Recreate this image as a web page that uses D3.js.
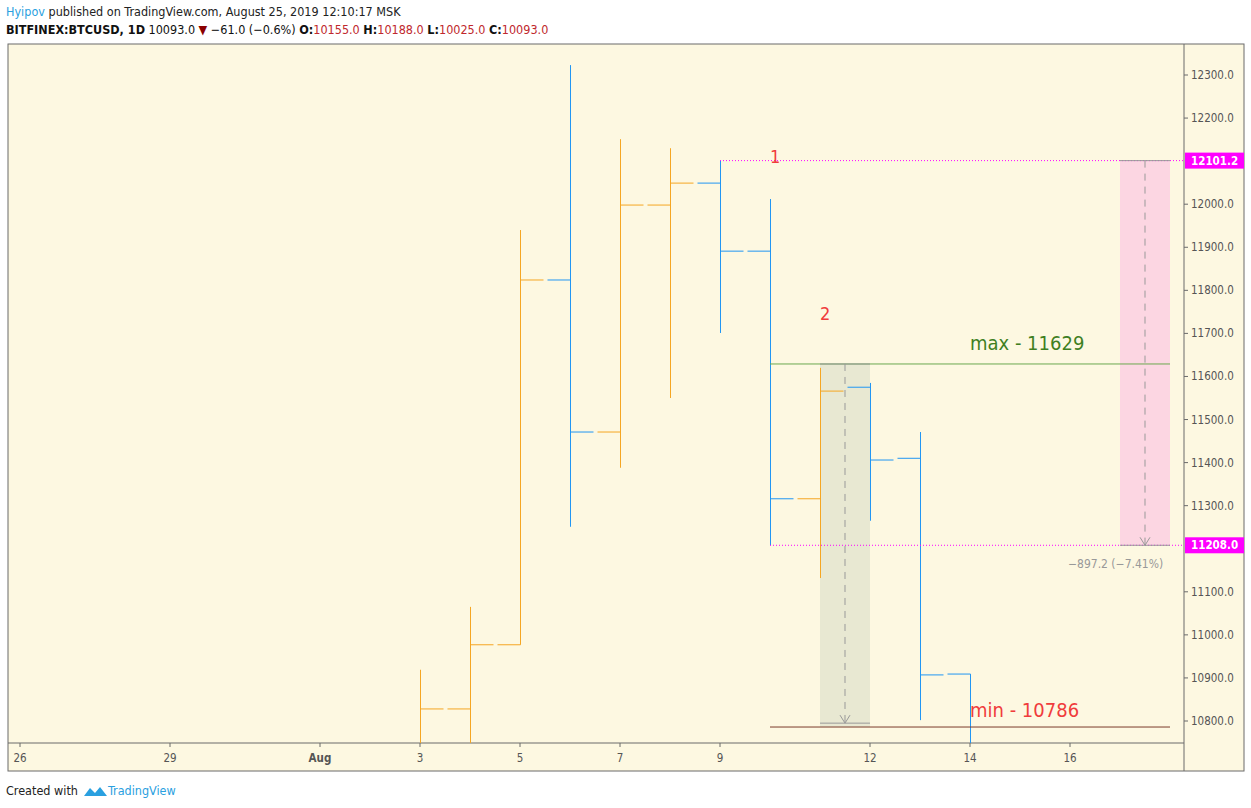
<!DOCTYPE html>
<html><head><meta charset="utf-8">
<script src="https://cdn.jsdelivr.net/npm/d3@7"></script>
<style>body{margin:0;background:#fff;font-family:"DejaVu Sans Condensed","DejaVu Sans",sans-serif}</style>
</head><body>
<svg id="c" width="1251" height="808"></svg>
<script>
// daily OHLC (Aug 2019)
var days   = ['2019-08-03','2019-08-04','2019-08-05','2019-08-06','2019-08-07','2019-08-08','2019-08-09','2019-08-10','2019-08-11','2019-08-12','2019-08-13','2019-08-14'];
var opens  = [10700,10828,10977,11824,11471,11998,12049,11891,11316,11575,11410,10909];
var highs  = [10919,11065,11940,12323,12151,12130,12101,12012,11620,11585,11471,10909];
var lows   = [10600,10700,10977,11251,11388,11550,11701,11208,11132,11265,10802,10600];
var closes = [10828,10977,11824,11471,11998,12049,11891,11316,11566,11406,10907,10650];
var priceTicks = [10800,10900,11000,11100,11300,11400,11500,11600,11700,11800,11900,12000,12200,12300];
var markLevels = [12101.2,11208];
var dateTicks = ['2019-07-26','2019-07-29','2019-08-01','2019-08-03','2019-08-05','2019-08-07','2019-08-09','2019-08-12','2019-08-14','2019-08-16'];
var dateLabels = ['26','29','Aug','3','5','7','9','12','14','16'];

var svg = d3.select('#c');
var L = 8, T = 44, R = 1184, B = 743;
var x = d3.scaleUtc().domain([new Date('2019-07-26'), new Date('2019-08-16')]).range([20,1070]);
var y = d3.scaleLinear().domain([10800,12300]).range([721,75]);
var day = function(s){return new Date(s);};
var tw = 23;

// header
var h1 = svg.append('text').attr('x',6).attr('y',16).attr('font-size',12.5);
h1.append('tspan').attr('fill','#2aa0e0').text('Hyipov');
h1.append('tspan').attr('fill','#222').text(' published on TradingView.com, August 25, 2019 12:10:17 MSK');
var h2 = svg.append('text').attr('x',6).attr('y',34).attr('font-size',12.5).attr('fill','#111');
h2.append('tspan').attr('font-weight','bold').text('BITFINEX:BTCUSD, 1D');
h2.append('tspan').text(' 10093.0 ');
h2.append('tspan').attr('fill','#8b0000').text('\u25BC');
h2.append('tspan').text(' \u221261.0 (\u22120.6%) ');
[['O:','10155.0'],['H:','10188.0'],['L:','10025.0'],['C:','10093.0']].forEach(function(p){
	h2.append('tspan').attr('font-weight','bold').text(p[0]);
	h2.append('tspan').attr('fill','#c0282d').text(p[1]+' ');
});

// frame
svg.append('rect').attr('x',L).attr('y',T).attr('width',1244-L).attr('height',771-T).attr('fill','#fdf8e1').attr('stroke','#6b6b6b');
svg.append('line').attr('x1',R).attr('x2',R).attr('y1',T).attr('y2',771).attr('stroke','#6b6b6b');
svg.append('line').attr('x1',L).attr('x2',R).attr('y1',B).attr('y2',B).attr('stroke','#6b6b6b');

svg.append('clipPath').attr('id','clip').append('rect').attr('x',L).attr('y',T).attr('width',R-L).attr('height',B-T);
var g = svg.append('g').attr('clip-path','url(#clip)');

// annotation rectangles (behind)
g.append('rect').attr('x',x(day('2019-08-11'))).attr('width',50).attr('y',y(11629)).attr('height',y(10786)-y(11629)).attr('fill','#e8e8d2');
g.append('rect').attr('x',1120).attr('width',50).attr('y',y(12101.2)).attr('height',y(11208)-y(12101.2)).attr('fill','#fcd6e2');

// OHLC bars
days.forEach(function(d,i){
	var cx = Math.round(x(day(d)))+0.5;
	var col = closes[i] >= opens[i] ? '#f5a623' : '#2196f3';
	g.append('line').attr('x1',cx).attr('x2',cx).attr('y1',y(highs[i])).attr('y2',y(lows[i])).attr('stroke',col);
	g.append('line').attr('x1',cx-tw).attr('x2',cx).attr('y1',y(opens[i])).attr('y2',y(opens[i])).attr('stroke',col);
	g.append('line').attr('x1',cx).attr('x2',cx+tw).attr('y1',y(closes[i])).attr('y2',y(closes[i])).attr('stroke',col);
});

// horizontal levels
g.append('line').attr('x1',720).attr('x2',R).attr('y1',y(12101.2)).attr('y2',y(12101.2)).attr('stroke','#ff00ff').attr('stroke-dasharray','1,2');
g.append('line').attr('x1',770).attr('x2',R).attr('y1',y(11208)).attr('y2',y(11208)).attr('stroke','#ff00ff').attr('stroke-dasharray','1,2');
g.append('line').attr('x1',770).attr('x2',1170).attr('y1',y(11629)).attr('y2',y(11629)).attr('stroke','#6aa84f');
g.append('line').attr('x1',770).attr('x2',1170).attr('y1',y(10786)).attr('y2',y(10786)).attr('stroke','#7b3b2b');
// measure tool edges and arrows
[[820,870,11629,10795,845],[1120,1170,12101.2,11208,1145]].forEach(function(m){
	g.append('line').attr('x1',m[0]).attr('x2',m[1]).attr('y1',y(m[2])).attr('y2',y(m[2])).attr('stroke','#999');
	g.append('line').attr('x1',m[0]).attr('x2',m[1]).attr('y1',y(m[3])).attr('y2',y(m[3])).attr('stroke','#999');
	g.append('line').attr('x1',m[4]).attr('x2',m[4]).attr('y1',y(m[2])).attr('y2',y(m[3])).attr('stroke','#999').attr('stroke-dasharray','7,6');
	g.append('path').attr('d','M'+(m[4]-5)+','+(y(m[3])-8)+'L'+m[4]+','+y(m[3])+'L'+(m[4]+5)+','+(y(m[3])-8)).attr('fill','none').attr('stroke','#999');
});
g.append('text').attr('x',1068).attr('y',568).attr('font-size',12).attr('fill','#999').text('\u2212897.2 (\u22127.41%)');
g.append('text').attr('x',770).attr('y',163).attr('font-size',18).attr('fill','#f03c3c').text('1');
g.append('text').attr('x',820).attr('y',320).attr('font-size',18).attr('fill','#f03c3c').text('2');
g.append('text').attr('x',970).attr('y',350).attr('font-size',20).attr('fill','#3f7f1f').text('max - 11629');
g.append('text').attr('x',970).attr('y',717).attr('font-size',20).attr('fill','#f03c3c').text('min - 10786');

// price axis
var pa = svg.append('g');
priceTicks.forEach(function(p){
	pa.append('line').attr('x1',R).attr('x2',R+4).attr('y1',y(p)).attr('y2',y(p)).attr('stroke','#6b6b6b');
	pa.append('text').attr('x',1191).attr('y',y(p)+4).attr('font-size',11.5).attr('fill','#555').text(p.toFixed(1));
});
markLevels.forEach(function(p){
	pa.append('rect').attr('x',R+1).attr('y',y(p)-8).attr('width',59).attr('height',16).attr('fill','#ff00ff');
	pa.append('text').attr('x',1191).attr('y',y(p)+4).attr('font-size',11.5).attr('font-weight','bold').attr('fill','#fff').text(p.toFixed(1));
});

// time axis
dateTicks.forEach(function(d,i){
	var tx = x(day(d));
	svg.append('line').attr('x1',tx).attr('x2',tx).attr('y1',B).attr('y2',B+4).attr('stroke','#6b6b6b');
	svg.append('text').attr('x',tx).attr('y',762).attr('text-anchor','middle').attr('font-size',11.5)
		.attr('font-weight',dateLabels[i]==='Aug'?'bold':'normal').attr('fill','#555').text(dateLabels[i]);
});

// footer
svg.append('text').attr('x',6).attr('y',795).attr('font-size',12.5).attr('fill','#222').text('Created with');
svg.append('path').attr('d','M84,796 l6,-8 l5,5 l5,-6 l7,9 z').attr('fill','#2aa0e0');
svg.append('text').attr('x',108).attr('y',795).attr('font-size',12.5).attr('fill','#2aa0e0').text('TradingView');
</script>
</body></html>
